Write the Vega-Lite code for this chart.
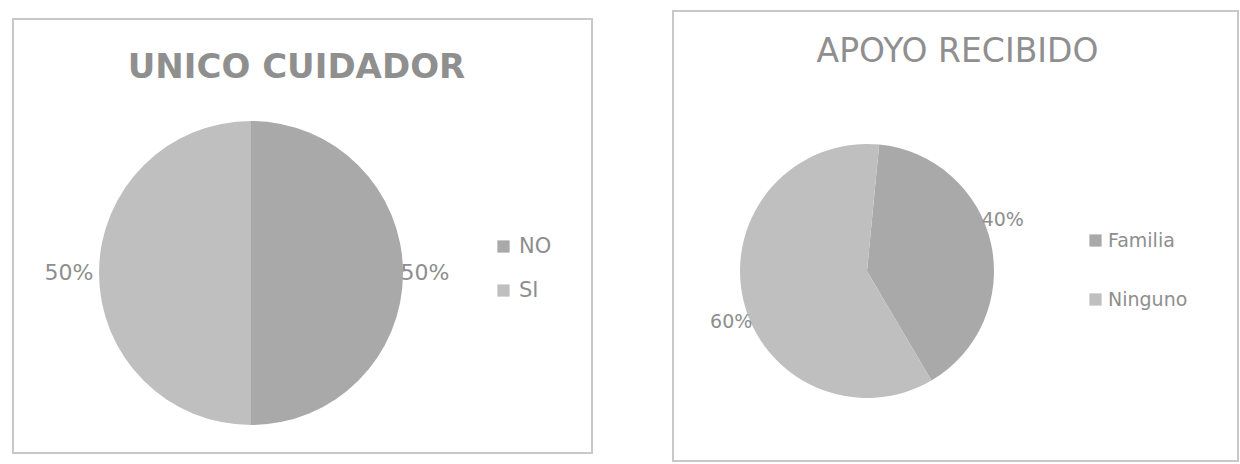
{
  "$schema": "https://vega.github.io/schema/vega-lite/v6.json",
  "background": "white",
  "padding": {"left": 12, "top": 10, "right": 0, "bottom": 0},
  "spacing": 79,
  "center": true,
  "config": {"font": "DejaVu Sans", "legend": {"padding": 0}},
  "resolve": {"scale": {"color": "independent", "theta": "independent"}, "legend": {"color": "independent"}},
  "hconcat": [
    {
      "width": 579,
      "height": 434,
      "view": {"stroke": "#c8c8c8", "strokeWidth": 2, "fill": "white"},
      "title": {"text": "UNICO CUIDADOR", "fontSize": 34, "fontWeight": "bold", "color": "#8f8f8f", "anchor": "middle", "frame": "group", "orient": "top", "offset": 0, "dy": 83, "baseline": "middle", "dx": -6},
      "data": {"values": [{"cat": "NO", "value": 0.5}, {"cat": "SI", "value": 0.5}]},
      "layer": [
        {
          "mark": {"type": "arc", "x": 238, "y": 254, "outerRadius": 152},
          "encoding": {
            "theta": {"field": "value", "type": "quantitative", "stack": true},
            "color": {
              "field": "cat", "type": "nominal",
              "scale": {"range": ["#a9a9a9", "#bfbfbf"]},
              "legend": {"title": null, "orient": "none", "legendX": 480, "legendY": 217, "symbolType": "square", "symbolSize": 150, "labelFontSize": 21, "labelColor": "#8e8e8e", "rowPadding": 22, "labelOffset": 5, "symbolStrokeWidth": 0}
            }
          }
        },
        {
          "mark": {"type": "text", "x": 234, "y": 254, "radius": 178, "fontSize": 22, "color": "#8e8e8e"},
          "encoding": {
            "theta": {"field": "value", "type": "quantitative", "stack": true},
            "text": {"field": "value", "type": "quantitative", "format": ".0%"}
          }
        }
      ]
    },
    {
      "width": 565,
      "height": 450,
      "view": {"stroke": "#c8c8c8", "strokeWidth": 2, "fill": "white"},
      "title": {"text": "APOYO RECIBIDO", "fontSize": 33, "fontWeight": "normal", "color": "#8f8f8f", "anchor": "middle", "frame": "group", "orient": "top", "offset": 0, "dy": 74, "baseline": "middle", "dx": 2},
      "data": {"values": [{"cat": "Familia", "value": 0.4}, {"cat": "Ninguno", "value": 0.6}]},
      "resolve": {"scale": {"theta": "independent"}},
      "layer": [
        {
          "mark": {"type": "arc", "x": 194, "y": 260, "outerRadius": 127},
          "encoding": {
            "theta": {"field": "value", "type": "quantitative", "stack": true, "scale": {"range": [0.096, 6.379]}},
            "color": {
              "field": "cat", "type": "nominal",
              "scale": {"range": ["#a9a9a9", "#bfbfbf"]},
              "legend": {"title": null, "orient": "none", "legendX": 413, "legendY": 220, "symbolType": "square", "symbolSize": 150, "labelFontSize": 19, "labelColor": "#8e8e8e", "rowPadding": 39, "labelOffset": 3, "symbolStrokeWidth": 0}
            }
          }
        },
        {
          "mark": {"type": "text", "x": 194, "y": 260, "radius": 145, "fontSize": 19, "color": "#8e8e8e"},
          "encoding": {
            "theta": {"field": "value", "type": "quantitative", "stack": true, "scale": {"range": [-0.044, 6.239]}},
            "text": {"field": "value", "type": "quantitative", "format": ".0%"}
          }
        }
      ]
    }
  ]
}
